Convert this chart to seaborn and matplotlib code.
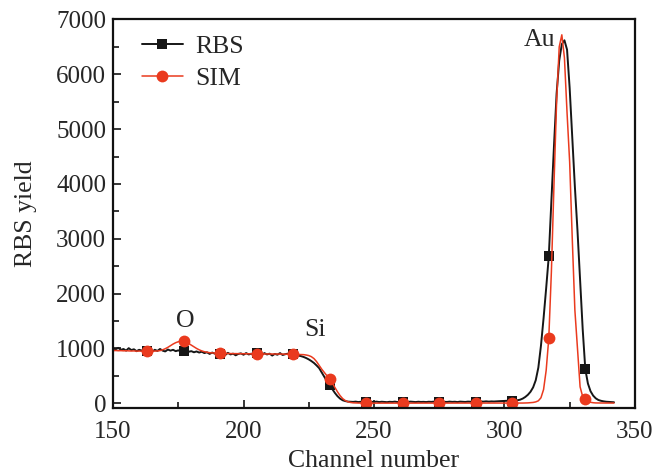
import numpy as np
import pandas as pd
import seaborn as sns
import matplotlib
matplotlib.use("Agg")
import matplotlib.pyplot as plt
from matplotlib.ticker import MultipleLocator

# ---- data (channels 150..342) ----
channel_first = 150
rbs = [
    1000, 985, 1010, 975, 990, 960, 1005, 970, 985, 950,      # 150
    975, 960, 990, 950, 965, 940, 975, 955, 990, 960,         # 160
    945, 980, 960, 975, 950, 965, 945, 950, 960, 940,         # 170
    950, 930, 945, 925, 940, 915, 930, 900, 925, 905,         # 180
    915, 895, 910, 880, 920, 890, 905, 875, 900, 910,         # 190
    885, 915, 890, 905, 875, 910, 895, 880, 915, 890,         # 200
    905, 870, 900, 885, 915, 880, 895, 905, 875, 890,         # 210
    875, 870, 860, 845, 825, 800, 770, 735, 690, 640,         # 220
    560, 480, 400, 330, 260, 190, 130, 85, 55, 40,            # 230
    30, 28, 25, 30, 22, 28, 25, 30, 20, 26,                   # 240
    24, 30, 22, 28, 25, 20, 27, 24, 30, 22,                   # 250
    26, 22, 28, 24, 30, 25, 22, 28, 24, 26,                   # 260
    22, 28, 25, 30, 24, 22, 28, 26, 24, 30,                   # 270
    25, 28, 22, 30, 26, 24, 30, 28, 32, 30,                   # 280
    28, 32, 30, 35, 30, 34, 32, 36, 38, 40,                   # 290
    42, 45, 48, 50, 52, 55, 65, 85, 115, 155,                 # 300
    210, 290, 420, 650, 1050, 1550, 2100, 2680, 3700, 4700,   # 310
    5650, 6250, 6550, 6620, 6450, 5750, 4850, 3950, 3150, 2250,  # 320
    1350, 620, 360, 220, 140, 90, 60, 45, 35, 28,             # 330
    24, 20, 18,                                               # 340
]
sim = [
    960, 962, 958, 960, 956, 958, 955, 953, 955, 951,         # 150
    952, 950, 950, 950, 950, 951, 952, 954, 960, 975,         # 160
    995, 1020, 1050, 1080, 1105, 1122, 1132, 1130, 1115, 1090,  # 170
    1060, 1030, 1000, 975, 955, 940, 930, 922, 918, 915,      # 180
    912, 910, 910, 908, 908, 906, 906, 905, 905, 904,         # 190
    904, 903, 903, 902, 902, 901, 901, 900, 900, 900,         # 200
    899, 899, 898, 898, 897, 897, 896, 896, 895, 895,         # 210
    894, 893, 890, 887, 880, 870, 850, 815, 760, 690,         # 220
    620, 560, 500, 440, 370, 290, 210, 140, 85, 50,           # 230
    28, 15, 8, 5, 4, 3, 3, 2, 2, 2,                           # 240
    2, 2, 2, 2, 2, 2, 2, 2, 2, 2,                             # 250
    2, 2, 2, 2, 2, 2, 2, 2, 2, 2,                             # 260
    2, 2, 2, 2, 2, 2, 2, 2, 2, 2,                             # 270
    2, 2, 2, 2, 2, 2, 2, 2, 2, 2,                             # 280
    2, 2, 2, 2, 2, 2, 2, 2, 2, 2,                             # 290
    2, 2, 2, 2, 2, 3, 3, 4, 5, 7,                             # 300
    10, 15, 25, 45, 100, 250, 600, 1185, 2400, 4000,          # 310
    5500, 6500, 6720, 6300, 5300, 4400, 3000, 1700, 1000, 300,  # 320
    120, 70, 35, 18, 10, 6, 5, 5, 5, 4,                       # 330
    4, 4, 4,                                                  # 340
]
channels = list(range(channel_first, channel_first + len(rbs)))
marker_channels = [163, 177, 191, 205, 219, 233, 247, 261, 275, 289, 303, 317, 331]
series_names = ["RBS", "SIM"]
annotations = [("Au", 313.5, 6620), ("O", 177.5, 1500), ("Si", 227.5, 1330)]

x_ticks = [150, 200, 250, 300, 350]
y_ticks = [0, 1000, 2000, 3000, 4000, 5000, 6000, 7000]

df = pd.DataFrame({"channel": channels, "RBS": rbs, "SIM": sim})
mark_idx = [channels.index(c) for c in marker_channels]

sns.set_style("ticks")
plt.rcParams["font.family"] = ["Liberation Serif", "DejaVu Serif"]
plt.rcParams["font.size"] = 18

fig = plt.figure(figsize=(6.69, 4.73), dpi=100)
ax = fig.add_axes([0.169, 0.137, 0.780, 0.823])

black = "#161616"
red = "#EA3A1E"

sns.lineplot(data=df, x="channel", y="RBS", ax=ax, color=black, lw=1.4,
             marker="s", markersize=6.5, markevery=mark_idx,
             markeredgewidth=0, label=series_names[0])
sns.lineplot(data=df, x="channel", y="SIM", ax=ax, color=red, lw=1.1,
             marker="o", markersize=8.5, markevery=mark_idx,
             markeredgewidth=0, label=series_names[1])

ax.set_xlim(150, 350)
ax.set_ylim(-90, 7010)
ax.set_xticks(x_ticks)
ax.set_yticks(y_ticks)
ax.xaxis.set_minor_locator(MultipleLocator(25))
ax.yaxis.set_minor_locator(MultipleLocator(500))
ax.tick_params(which="both", direction="in", top=False, right=False,
               width=1.3, labelsize=18)
ax.tick_params(axis="x", pad=9)
ax.tick_params(axis="y", pad=5)
ax.tick_params(which="major", length=6)
ax.tick_params(which="minor", length=4)
for s in ax.spines.values():
    s.set_linewidth(1.6)
    s.set_visible(True)
    s.set_color("#111111")

ax.set_xlabel("Channel number", fontsize=18.5, labelpad=5)
ax.set_ylabel("RBS yield", fontsize=18.5, labelpad=14)

for txt, xv, yv in annotations:
    ax.text(xv, yv, txt, fontsize=18.5, ha="center", va="center")

leg = ax.legend(loc="upper left", frameon=False, fontsize=18.5,
                handlelength=1.6, handletextpad=0.5, labelspacing=0.35,
                borderaxespad=0.0, bbox_to_anchor=(0.035, 0.985))

fig.savefig("out.png", dpi=100)
